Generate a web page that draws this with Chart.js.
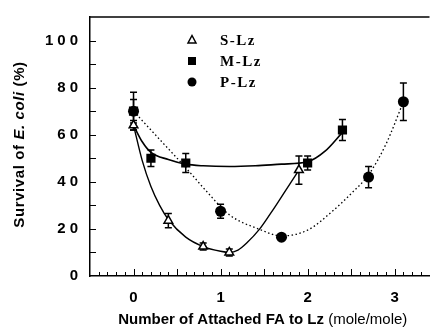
<!DOCTYPE html>
<html><head><meta charset="utf-8">
<script src="https://cdn.jsdelivr.net/npm/chart.js@4/dist/chart.umd.min.js"></script>
<style>html,body{margin:0;padding:0;background:#fff}#wrap{width:436px;height:333px;position:relative}</style>
</head><body><div id="wrap"><canvas id="c" width="436" height="333"></canvas></div>
<script>
// ---- data ----
const seriesNames = ['S-Lz', 'M-Lz', 'P-Lz'];
const sLzX = [0, 0.4, 0.8, 1.1, 1.9];
const sLzY = [64, 23.5, 12.5, 10, 45];
const sLzErr = [2, 3, 1.5, 1.5, 6];
const mLzX = [0, 0.2, 0.6, 2.0, 2.4];
const mLzY = [70, 50, 48, 48, 62];
const mLzErr = [5, 3.5, 4, 3, 4.5];
const pLzX = [0, 1.0, 1.7, 2.7, 3.1];
const pLzY = [70, 27.5, 16.5, 42, 74];
const pLzErr = [8, 3, 1, 4.5, 8];
// fitted curves as traced on the picture
const sFitX = [0, 0.1, 0.2, 0.3, 0.4, 0.6, 0.8, 1.0, 1.1, 1.2, 1.3, 1.45, 1.6, 1.75, 1.9];
const sFitY = [64, 49, 38, 30, 24, 16.5, 12.5, 10.5, 10, 11, 14, 20, 28, 36.5, 45];
const mFitX = [0, 0.1, 0.2, 0.4, 0.6, 0.8, 1.1, 1.4, 1.7, 2.0, 2.2, 2.4];
const mFitY = [64, 57, 52.5, 49.5, 47.5, 46.8, 46.5, 46.8, 47.5, 48.5, 53, 61];
const pFitX = [0, 0.3, 0.6, 0.85, 1.1, 1.45, 1.7, 2.0, 2.3, 2.5, 2.7, 2.9, 3.1];
const pFitY = [70, 58, 46, 35.5, 26, 19.8, 17, 19.5, 28, 35, 43, 56, 74];
// axes
const xTickValues = [0, 1, 2, 3];
const xTickLabels = ['0', '1', '2', '3'];
const yTickValues = [0, 20, 40, 60, 80, 100];
const yTickLabels = ['0', '20', '40', '60', '80', '100'];
const xRange = [-0.5, 3.4];
const yRange = [0, 110];
const xMinorStep = 0.1, xMajorStep = 0.5, yMinorStep = 10;

const zip = (xs, ys) => xs.map((x, i) => ({x: x, y: ys[i]}));
const SANS = '"Liberation Sans", Arial, sans-serif';
const SERIF = '"Liberation Serif", "Times New Roman", serif';

const decor = {
  id: 'decor',
  beforeDraw(chart) { chart.ctx.letterSpacing = '4px'; },
  beforeDatasetsDraw(chart) {
    const {ctx, scales: {x, y}} = chart;
    ctx.letterSpacing = '0px';
    ctx.save();
    ctx.strokeStyle = '#000'; ctx.lineWidth = 1.5;
    chart.data.datasets.forEach(ds => {
      if (!ds.errors) return;
      ds.data.forEach((p, i) => {
        const e = ds.errors[i];
        const px = x.getPixelForValue(p.x);
        const y1 = y.getPixelForValue(p.y + e), y2 = y.getPixelForValue(p.y - e);
        ctx.beginPath();
        ctx.moveTo(px, y1); ctx.lineTo(px, y2);
        ctx.moveTo(px - 3.5, y1); ctx.lineTo(px + 3.5, y1);
        ctx.moveTo(px - 3.5, y2); ctx.lineTo(px + 3.5, y2);
        ctx.stroke();
      });
    });
    ctx.restore();
  },
  afterDraw(chart) {
    const {ctx, chartArea: a, scales: {x, y}} = chart;
    ctx.save();
    ctx.letterSpacing = '0px';
    ctx.strokeStyle = '#000';
    // top frame line
    ctx.lineWidth = 1.5;
    ctx.beginPath(); ctx.moveTo(a.left, a.top); ctx.lineTo(a.right, a.top); ctx.stroke();
    // inward ticks
    ctx.lineWidth = 1;
    ctx.beginPath();
    for (let v = xRange[0] + xMinorStep; v < xRange[1] - 1e-9; v += xMinorStep) {
      const vv = Math.round(v * 10) / 10;
      const px = Math.round(x.getPixelForValue(vv)) + 0.5;
      const major = Math.abs(vv / xMajorStep - Math.round(vv / xMajorStep)) < 1e-6;
      ctx.moveTo(px, a.bottom); ctx.lineTo(px, a.bottom - (major ? 7 : 4));
    }
    for (let v = yRange[0] + yMinorStep; v <= yRange[1] - yMinorStep + 1e-9; v += yMinorStep) {
      const py = Math.round(y.getPixelForValue(v)) + 0.5;
      ctx.moveTo(a.left, py); ctx.lineTo(a.left + 6, py);
    }
    ctx.stroke();

    // x title (mixed weights)
    ctx.fillStyle = '#000';
    ctx.textBaseline = 'middle';
    ctx.textAlign = 'left';
    const t1 = 'Number of Attached FA to Lz ', t2 = '(mole/mole)';
    const f1 = 'bold 15px ' + SANS, f2 = '15px ' + SANS;
    ctx.font = f1; const w1 = ctx.measureText(t1).width;
    ctx.font = f2; const w2 = ctx.measureText(t2).width;
    let sx = (a.left + a.right) / 2 + 3 - (w1 + w2) / 2;
    const ty = 320;
    ctx.font = f1; ctx.fillText(t1, sx, ty);
    ctx.font = f2; ctx.fillText(t2, sx + w1, ty);

    // y title (rotated, italic species name)
    const runs = [
      {t: 'Survival of ', f: 'bold 15px ' + SANS},
      {t: 'E. coli', f: 'italic bold 15px ' + SANS},
      {t: ' (%)', f: 'bold 15px ' + SANS}
    ];
    ctx.letterSpacing = '0.6px';
    let tot = 0;
    runs.forEach(r => { ctx.font = r.f; r.w = ctx.measureText(r.t).width; tot += r.w; });
    ctx.translate(20, (a.top + a.bottom) / 2 - 2);
    ctx.rotate(-Math.PI / 2);
    let cx = -tot / 2;
    runs.forEach(r => { ctx.font = r.f; ctx.fillText(r.t, cx, 0); cx += r.w; });
    ctx.restore();

    // legend
    ctx.save();
    const lx = a.left + 102, ly0 = a.top + 23, dy = 21;
    [0, 1, 2].forEach(i => {
      const ds = chart.data.datasets[i];
      const cy = ly0 + i * dy;
      ctx.fillStyle = '#000'; ctx.strokeStyle = '#000'; ctx.lineWidth = 1.5;
      ctx.beginPath();
      if (ds.pointStyle === 'triangle') {
        ctx.moveTo(lx, cy - 4.5); ctx.lineTo(lx + 4, cy + 3); ctx.lineTo(lx - 4, cy + 3); ctx.closePath();
        ctx.fillStyle = '#fff'; ctx.fill(); ctx.stroke();
      } else if (ds.pointStyle === 'rect') {
        ctx.rect(lx - 4, cy - 4, 8, 8); ctx.fill();
      } else {
        ctx.arc(lx, cy, 4.5, 0, Math.PI * 2); ctx.fill();
      }
      ctx.fillStyle = '#000';
      ctx.font = 'bold 15px ' + SERIF;
      ctx.letterSpacing = '1.5px';
      ctx.textAlign = 'left'; ctx.textBaseline = 'middle';
      ctx.fillText(seriesNames[i], lx + 28, cy + 1);
    });
    ctx.restore();
  }
};

new Chart(document.getElementById('c'), {
  type: 'scatter',
  data: {
    datasets: [
      {label: seriesNames[0], data: zip(sLzX, sLzY), errors: sLzErr, pointStyle: 'triangle', pointRadius: 5,
       backgroundColor: '#fff', borderColor: '#000', borderWidth: 1.5, showLine: false},
      {label: seriesNames[1], data: zip(mLzX, mLzY), errors: mLzErr, pointStyle: 'rect', pointRadius: 6.5,
       backgroundColor: '#000', borderColor: '#000', borderWidth: 0, showLine: false},
      {label: seriesNames[2], data: zip(pLzX, pLzY), errors: pLzErr, pointStyle: 'circle', pointRadius: 5.5,
       backgroundColor: '#000', borderColor: '#000', borderWidth: 0, showLine: false},
      {label: 'S-Lz fit', data: zip(sFitX, sFitY), showLine: true, pointRadius: 0, borderColor: '#000',
       borderWidth: 1.4, cubicInterpolationMode: 'monotone', fill: false},
      {label: 'M-Lz fit', data: zip(mFitX, mFitY), showLine: true, pointRadius: 0, borderColor: '#000',
       borderWidth: 1.6, cubicInterpolationMode: 'monotone', fill: false},
      {label: 'P-Lz fit', data: zip(pFitX, pFitY), showLine: true, pointRadius: 0, borderColor: '#000',
       borderWidth: 1.3, borderDash: [1.5, 2.5], cubicInterpolationMode: 'monotone', fill: false}
    ]
  },
  options: {
    animation: false,
    responsive: false,
    events: [],
    layout: {padding: {top: 10, right: 0, left: 0, bottom: 0}},
    plugins: {legend: {display: false}, tooltip: {enabled: false}},
    scales: {
      x: {
        type: 'linear', min: xRange[0], max: xRange[1],
        afterBuildTicks: s => { s.ticks = xTickValues.map(v => ({value: v})); },
        afterFit: s => { s.height = 57; },
        grid: {display: false, drawTicks: false},
        border: {display: true, color: '#000', width: 1.5},
        ticks: {color: '#000', padding: 13, labelOffset: 2, maxRotation: 0, autoSkip: false,
                font: {family: SANS, size: 15, weight: 'bold'},
                callback: (v, i) => xTickLabels[i]}
      },
      y: {
        type: 'linear', min: yRange[0], max: yRange[1],
        afterBuildTicks: s => { s.ticks = yTickValues.map(v => ({value: v})); },
        afterFit: s => { s.width = 90; },
        grid: {display: false, drawTicks: false},
        border: {display: true, color: '#000', width: 1.5},
        ticks: {color: '#000', padding: 8, autoSkip: false,
                font: {family: SANS, size: 15, weight: 'bold'},
                callback: (v, i) => yTickLabels[i]}
      }
    }
  },
  plugins: [decor]
});
</script>
</body></html>
